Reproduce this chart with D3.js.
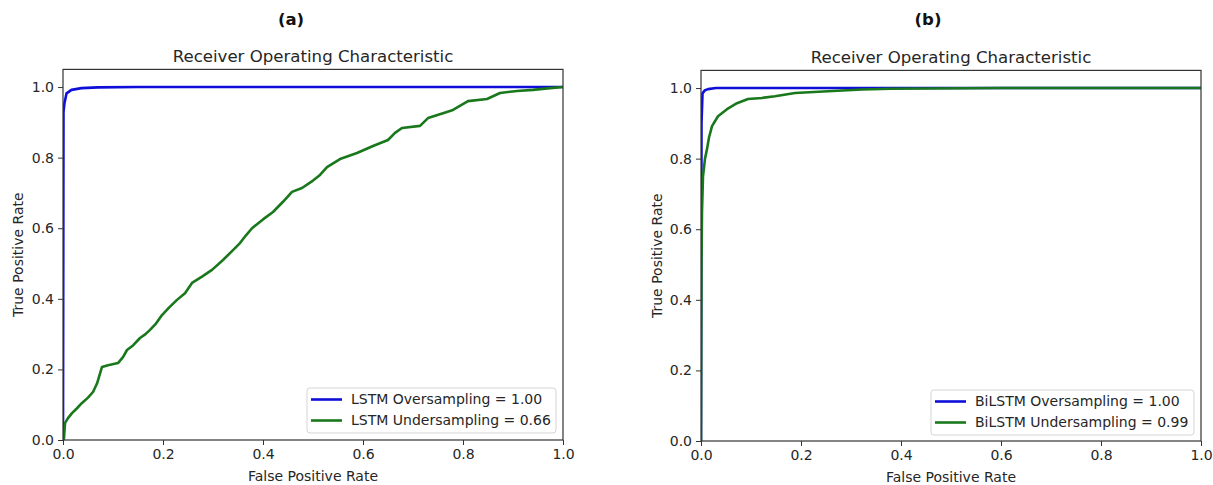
<!DOCTYPE html>
<html>
<head>
<meta charset="utf-8">
<script src="https://cdn.jsdelivr.net/npm/d3@7"></script>
<style>
  html, body { margin: 0; padding: 0; background: #fff; }
  svg { display: block; }
  text { font-family: "DejaVu Sans", sans-serif; fill: #262626; }
</style>
</head>
<body>
<svg id="chart" width="1213" height="485"></svg>
<script>
// ROC curves: false positive rate / true positive rate pairs
const lstmOverFpr  = [0, 0.001, 0.003, 0.007, 0.017, 0.037, 0.07, 0.15, 1];
const lstmOverTpr  = [0, 0.93, 0.955, 0.982, 0.992, 0.997, 0.999, 1.0, 1];

const lstmUnderFpr = [0, 0.002, 0.004, 0.01, 0.018, 0.028, 0.038, 0.05, 0.06, 0.068, 0.078, 0.09, 0.11, 0.12, 0.128, 0.14, 0.154, 0.165, 0.174, 0.186, 0.198, 0.212, 0.228, 0.244, 0.258, 0.278, 0.298, 0.32, 0.34, 0.354, 0.366, 0.378, 0.4, 0.42, 0.44, 0.458, 0.478, 0.5, 0.514, 0.528, 0.554, 0.588, 0.62, 0.65, 0.664, 0.678, 0.714, 0.73, 0.76, 0.78, 0.81, 0.848, 0.874, 0.908, 0.94, 0.974, 1];
const lstmUnderTpr = [0, 0.005, 0.048, 0.062, 0.076, 0.09, 0.105, 0.12, 0.136, 0.16, 0.207, 0.212, 0.218, 0.235, 0.255, 0.268, 0.289, 0.3, 0.312, 0.33, 0.354, 0.375, 0.397, 0.416, 0.445, 0.463, 0.482, 0.51, 0.538, 0.558, 0.58, 0.6, 0.625, 0.646, 0.675, 0.703, 0.714, 0.735, 0.751, 0.773, 0.796, 0.813, 0.833, 0.85, 0.87, 0.884, 0.89, 0.912, 0.926, 0.935, 0.96, 0.966, 0.983, 0.989, 0.992, 0.997, 1];

const bilstmOverFpr  = [0, 0.001, 0.003, 0.008, 0.014, 0.03, 1];
const bilstmOverTpr  = [0, 0.9, 0.985, 0.994, 0.997, 1.0, 1];

const bilstmUnderFpr = [0, 0.0005, 0.001, 0.002, 0.004, 0.008, 0.012, 0.016, 0.022, 0.034, 0.052, 0.072, 0.094, 0.122, 0.148, 0.188, 0.254, 0.322, 0.38, 0.6, 1];
const bilstmUnderTpr = [0, 0.3, 0.5, 0.65, 0.75, 0.8, 0.827, 0.86, 0.892, 0.92, 0.94, 0.957, 0.969, 0.972, 0.977, 0.986, 0.991, 0.996, 0.998, 1.0, 1];

const panelLabels = ["(a)", "(b)"];
const legendLabelsA = ["LSTM Oversampling = 1.00", "LSTM Undersampling = 0.66"];
const legendLabelsB = ["BiLSTM Oversampling = 1.00", "BiLSTM Undersampling = 0.99"];
const xTicks = [0, 0.2, 0.4, 0.6, 0.8, 1.0];
const yTicks = [0, 0.2, 0.4, 0.6, 0.8, 1.0];

const BLUE = "#0e0ed8";
const GREEN = "#18781b";

const zip = (xs, ys) => xs.map((x, i) => [x, ys[i]]);

const panels = [
  { label: panelLabels[0], labelX: 291, left: 63, right: 563, top: 69.4, bottom: 440, ylabX: 18,
    series: [ { pts: zip(lstmOverFpr, lstmOverTpr), color: BLUE },
              { pts: zip(lstmUnderFpr, lstmUnderTpr), color: GREEN } ],
    legend: legendLabelsA, legendBox: { x: 307, y: 388, w: 249, h: 45 } },
  { label: panelLabels[1], labelX: 928, left: 701, right: 1201, top: 70.4, bottom: 441, ylabX: 657,
    series: [ { pts: zip(bilstmOverFpr, bilstmOverTpr), color: BLUE },
              { pts: zip(bilstmUnderFpr, bilstmUnderTpr), color: GREEN } ],
    legend: legendLabelsB, legendBox: { x: 931, y: 390, w: 263, h: 45 } }
];

const svg = d3.select("#chart");
svg.append("rect").attr("width", 1213).attr("height", 485).attr("fill", "#fff");

panels.forEach((p, pi) => {
  const x = d3.scaleLinear().domain([0, 1]).range([p.left, p.right]);
  const y = d3.scaleLinear().domain([0, 1.05]).range([p.bottom, p.top]);
  const g = svg.append("g");
  const cx = (p.left + p.right) / 2;

  // panel letter
  g.append("text").attr("x", p.labelX).attr("y", 25)
    .attr("text-anchor", "middle").style("font-size", "16.5px").style("font-weight", "bold")
    .style("fill", "#111").text(p.label);

  // axes title
  g.append("text").attr("x", cx).attr("y", p.top - 7)
    .attr("text-anchor", "middle").style("font-size", "16.6px").text("Receiver Operating Characteristic");

  // curves, clipped to the axes area
  const clipId = "clip" + pi;
  svg.append("clipPath").attr("id", clipId).append("rect")
    .attr("x", p.left).attr("y", p.top - 2).attr("width", p.right - p.left + 2).attr("height", p.bottom - p.top + 4);
  const line = d3.line().x(d => x(d[0])).y(d => y(d[1]));
  const curves = g.append("g").attr("clip-path", `url(#${clipId})`);
  p.series.forEach(s => {
    curves.append("path").attr("d", line(s.pts)).attr("fill", "none")
      .attr("stroke", s.color).attr("stroke-width", 2.6).attr("stroke-linejoin", "round");
  });

  // x axis
  const xAxis = d3.axisBottom(x).tickValues(xTicks).tickFormat(d3.format(".1f")).tickSize(5).tickPadding(4);
  const gx = g.append("g").attr("transform", `translate(0,${p.bottom})`).call(xAxis);
  // y axis
  const yAxis = d3.axisLeft(y).tickValues(yTicks).tickFormat(d3.format(".1f")).tickSize(5).tickPadding(4);
  const gy = g.append("g").attr("transform", `translate(${p.left},0)`).call(yAxis);
  [gx, gy].forEach(a => {
    a.select(".domain").remove();
    a.selectAll(".tick line").attr("stroke", "#333").attr("stroke-width", 1);
    a.selectAll(".tick text").style("font-size", "14px").style("font-family", "DejaVu Sans, sans-serif").attr("fill", "#262626");
  });

  // frame
  g.append("rect").attr("x", p.left).attr("y", p.top)
    .attr("width", p.right - p.left).attr("height", p.bottom - p.top)
    .attr("fill", "none").attr("stroke", "#333").attr("stroke-width", 1.2);

  // axis labels
  g.append("text").attr("x", cx).attr("y", p.bottom + 41)
    .attr("text-anchor", "middle").style("font-size", "14px").text("False Positive Rate");
  g.append("text").attr("transform", `translate(${p.ylabX},${(p.top + p.bottom) / 2}) rotate(-90)`)
    .attr("text-anchor", "middle").attr("dy", "0.35em").style("font-size", "14px").text("True Positive Rate");

  // legend
  const b = p.legendBox;
  const lg = g.append("g");
  lg.append("rect").attr("x", b.x).attr("y", b.y).attr("width", b.w).attr("height", b.h)
    .attr("rx", 3).attr("fill", "#fff").attr("fill-opacity", 0.85).attr("stroke", "#d5d5d5").attr("stroke-width", 1);
  p.legend.forEach((txt, i) => {
    const ly = b.y + 11.5 + i * 21;
    lg.append("line").attr("x1", b.x + 4).attr("x2", b.x + 35).attr("y1", ly).attr("y2", ly)
      .attr("stroke", p.series[i].color).attr("stroke-width", 2.6);
    lg.append("text").attr("x", b.x + 44).attr("y", ly).attr("dy", "0.35em")
      .style("font-size", "14px").text(txt);
  });
});
</script>
</body>
</html>
